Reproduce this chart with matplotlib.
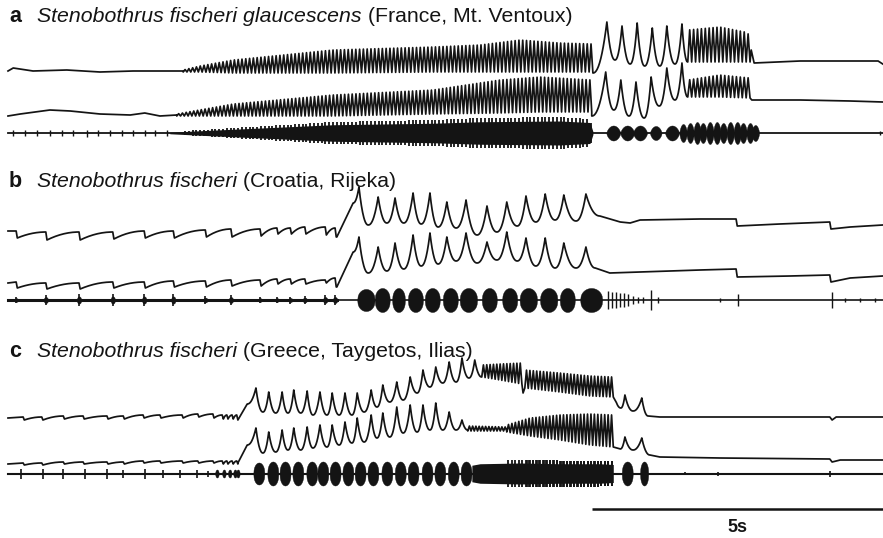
import numpy as np
import matplotlib
matplotlib.use("Agg")
import matplotlib.pyplot as plt

plt.rcParams['font.family'] = ['Liberation Sans', 'DejaVu Sans']

# ======================= DATA (time in s, level in trace units) =======================
# ---------- panel a ----------
a_label, a_species, a_place = "a", "Stenobothrus fischeri glaucescens", " (France, Mt. Ventoux)"
A1_pre_t = [0.00, 0.03, 0.09, 0.43, 1.01, 1.58, 2.15, 2.73, 3.01]
A1_pre_y = [71, 70, 68, 71, 70, 72, 71, 71, 71]
A1_osc1 = (3.01, 10.05, 108)
A1_osc1_env_t = [3.01, 3.30, 3.87, 4.73, 5.58, 7.30, 8.11, 8.80, 9.48, 10.05]
A1_osc1_up = [70, 66, 60, 55, 50, 47, 45, 40, 43, 44]
A1_osc1_lo = [72, 72, 73, 73, 73, 72, 72, 72, 72, 72]
A1_big_t = [10.05, 10.29, 10.43, 10.55, 10.69, 10.81, 10.94, 11.07, 11.20, 11.32, 11.46, 11.58, 11.68]
A1_big_y = [73, 22, 60, 26, 64, 23, 66, 28, 66, 26, 64, 24, 62]
A1_osc2 = (11.68, 12.75, 16)
A1_osc2_env_t = [11.68, 12.23, 12.66, 12.75]
A1_osc2_up = [30, 27, 32, 35]
A1_osc2_lo = [62, 62, 62, 62]
A1_post_t = [12.75, 12.77, 12.82, 13.61, 14.47, 14.95, 15.03]
A1_post_y = [62, 50, 63, 61, 61, 61, 64]

A2_pre_t = [0.00, 0.21, 0.72, 1.07, 1.58, 2.10, 2.35, 2.61, 2.90]
A2_pre_y = [116, 114, 110, 111, 114, 115, 113, 116, 115]
A2_osc1 = (2.90, 10.03, 110)
A2_osc1_env_t = [2.90, 3.87, 5.58, 7.30, 8.45, 9.14, 10.03]
A2_osc1_up = [114, 104, 95, 90, 80, 77, 80]
A2_osc1_lo = [116, 116, 116, 114, 113, 112, 112]
A2_big_t = [10.03, 10.27, 10.41, 10.53, 10.67, 10.79, 10.93, 11.05, 11.19, 11.32, 11.46, 11.58, 11.68]
A2_big_y = [116, 72, 110, 80, 116, 82, 118, 77, 106, 68, 100, 63, 97]
A2_osc2 = (11.68, 12.75, 16)
A2_osc2_env_t = [11.68, 12.23, 12.75]
A2_osc2_up = [80, 75, 78]
A2_osc2_lo = [97, 97, 98]
A2_post_t = [12.75, 12.78, 13.61, 14.47, 15.03]
A2_post_y = [98, 100, 100, 101, 102]

A3_tick_t = [0.09, 0.29, 0.50, 0.72, 0.93, 1.12, 1.36, 1.55, 1.75, 1.96, 2.15, 2.35, 2.52, 2.73, 14.98]
A3_tick_a = [3, 3, 3, 3, 3, 3, 3.5, 3, 3, 3, 3, 3, 3, 3, 2]
A3_env_t = [2.78, 3.30, 3.87, 4.73, 5.58, 6.44, 7.30, 8.11, 9.48, 10.00, 10.05]
A3_env_a = [1, 3, 5, 8, 11, 12, 13, 15, 16, 14, 2]
A3_burst_t = [10.40, 10.64, 10.86, 11.13, 11.41,
              11.60, 11.72, 11.84, 11.94, 12.06, 12.18, 12.29, 12.41, 12.53, 12.63, 12.75, 12.84]
A3_burst_w = [0.12, 0.12, 0.12, 0.10, 0.12,
              0.065, 0.065, 0.065, 0.065, 0.065, 0.065, 0.065, 0.065, 0.065, 0.065, 0.065, 0.065]
A3_burst_a = [7.5, 7.5, 7.5, 7, 7.5, 9, 10, 11, 10, 11, 11, 10, 11, 11, 10, 10, 8]

# ---------- panel b ----------
b_label, b_species, b_place = "b", "Stenobothrus fischeri", " (Croatia, Rijeka)"
B_drop_t = [0.14, 0.65, 1.22, 1.80, 2.34, 2.84, 3.39, 3.83, 4.33, 4.62, 4.85, 5.10, 5.45, 5.62]
B1_pre_hi = [231, 232, 232, 232, 231, 231, 230, 229, 229, 228, 228, 227, 227, 228]
B1_pre_lo = [238, 240, 240, 239, 238, 238, 237, 237, 236, 234, 234, 234, 235, 237]
B1_rise_t = [5.65, 5.93]
B1_rise_y = [237, 203]
B_peak_t = [6.03, 6.36, 6.65, 6.96, 7.25, 7.54, 7.87, 8.23, 8.57, 8.90, 9.23, 9.55, 9.93]
B1_peak_y = [187, 197, 198, 193, 193, 202, 200, 206, 202, 196, 194, 195, 194]
B_trough_t = [6.19, 6.51, 6.80, 7.10, 7.39, 7.70, 8.06, 8.40, 8.75, 9.07, 9.40, 9.76]
B1_trough_y = [225, 223, 223, 224, 227, 228, 235, 232, 226, 222, 220, 221]
B1_post_t = [10.17, 10.40, 10.52, 10.69, 10.86, 11.89, 12.51, 12.53, 13.26, 14.12, 14.14, 14.47, 15.03]
B1_post_y = [216, 220, 222, 223, 220, 219, 219, 226, 224, 222, 229, 227, 225]

B2_pre_hi = [282, 283, 283, 282, 282, 281, 281, 280, 280, 279, 279, 279, 280, 278]
B2_pre_lo = [288, 289, 289, 288, 288, 287, 287, 286, 286, 284, 284, 284, 283, 287]
B2_rise_t = [5.65, 5.93]
B2_rise_y = [287, 252]
B2_peak_y = [237, 247, 243, 235, 233, 237, 233, 242, 232, 238, 238, 243, 247]
B2_trough_y = [273, 271, 269, 266, 264, 261, 263, 260, 261, 266, 268, 268]
B2_post_t = [10.09, 10.34, 10.86, 11.89, 12.51, 12.53, 13.44, 14.12, 14.14, 14.47, 15.03]
B2_post_y = [268, 273, 272, 270, 269, 277, 276, 275, 282, 278, 276]

B3_pulse_a = [3, 5, 6, 6, 6, 6, 4, 5, 3, 3, 3.5, 4, 5, 5]
B3_burst_t = [6.15, 6.43, 6.71, 7.00, 7.29, 7.60, 7.91, 8.27, 8.62, 8.94, 9.29, 9.61, 10.02]
B3_burst_w = [0.15, 0.13, 0.11, 0.13, 0.13, 0.13, 0.15, 0.13, 0.13, 0.15, 0.15, 0.13, 0.19]
B3_burst_a = [11, 12, 12, 12, 12, 12, 12, 12, 12, 12, 12, 12, 12]
B3_spike_t = [10.31, 10.38, 10.45, 10.52, 10.58, 10.65, 10.74, 10.82, 10.91, 11.05, 11.17,
              12.23, 12.54, 14.16, 14.38, 14.64, 14.90]
B3_spike_a = [9, 8, 8, 7, 7, 6, 4, 3, 3, 10, 3, 2, 6, 8, 2, 2, 2]

# ---------- panel c ----------
c_label, c_species, c_place = "c", "Stenobothrus fischeri", " (Greece, Taygetos, Ilias)"
C_drop_t = [0.26, 0.58, 0.95, 1.29, 1.70, 1.98, 2.32, 2.61, 2.99, 3.26, 3.52, 3.68, 3.76, 3.85, 3.93]
C1_pre_hi = [417, 417, 416, 416, 416, 416, 415, 415, 415, 414, 414, 415, 415, 415, 415]
C1_pre_lo = [420, 420, 419, 419, 419, 419, 418, 418, 418, 417, 418, 419, 419, 419, 420]
C1_rise_t = [3.95, 4.11]
C1_rise_y = [420, 404]
C_peak_t = [4.26, 4.48, 4.71, 4.91, 5.14, 5.36, 5.57, 5.79, 6.00, 6.24, 6.44, 6.68,
            6.91, 7.13, 7.35, 7.58, 7.80, 8.02]
C1_peak_y = [388, 392, 392, 390, 391, 392, 393, 393, 393, 390, 385, 382, 377, 370, 367, 362, 358, 360]
C_trough_t = [4.38, 4.60, 4.81, 5.03, 5.24, 5.48, 5.69, 5.91, 6.12, 6.34, 6.56, 6.79,
              7.03, 7.25, 7.47, 7.70, 7.92, 8.14]
C1_trough_y = [412, 413, 413, 413, 415, 415, 415, 415, 412, 407, 402, 400, 393, 387, 383, 382, 378, 377]
C1_osc1 = (8.14, 8.83, 12)
C1_osc1_env_t = [8.14, 8.45, 8.83]
C1_osc1_up = [365, 364, 363]
C1_osc1_lo = [377, 380, 384]
C1_dip_t = [8.85, 8.88]
C1_dip_y = [393, 388]
C1_osc2 = (8.88, 10.40, 26)
C1_osc2_env_t = [8.88, 9.48, 10.00, 10.40]
C1_osc2_up = [370, 373, 376, 377]
C1_osc2_lo = [388, 392, 396, 397]
C1_end_t = [10.45, 10.53, 10.60, 10.74, 10.89, 11.00]
C1_end_y = [402, 408, 395, 411, 398, 416]
C1_post_t = [11.20, 14.12, 14.16, 14.23, 15.03]
C1_post_y = [417, 417, 420, 417, 417]

C2_pre_hi = [463, 463, 462, 462, 462, 462, 461, 461, 461, 461, 461, 461, 461, 461, 461]
C2_pre_lo = [465, 465, 464, 464, 464, 464, 463, 463, 463, 463, 463, 464, 464, 464, 464]
C2_rise_t = [3.95, 4.11]
C2_rise_y = [463, 445]
C2_peak_y = [428, 432, 430, 428, 427, 425, 425, 422, 418, 415, 413, 407, 405, 405, 403, 412, 420]
C2_trough_y = [453, 452, 450, 450, 448, 447, 445, 443, 442, 438, 437, 433, 432, 430, 430, 430, 430]
C2_trough_last_t = 7.90
C2_osc1 = (7.90, 8.57, 12)
C2_osc1_env_t = [7.90, 8.57]
C2_osc1_up = [426, 427]
C2_osc1_lo = [431, 431]
C2_osc2 = (8.57, 10.40, 31)
C2_osc2_env_t = [8.57, 8.97, 9.48, 10.00, 10.40]
C2_osc2_up = [425, 418, 415, 414, 415]
C2_osc2_lo = [432, 436, 440, 445, 447]
C2_end_t = [10.52, 10.60, 10.74, 10.89, 11.03]
C2_end_y = [449, 437, 450, 438, 455]
C2_post_t = [11.20, 12.23, 14.12, 14.16, 14.30, 15.03]
C2_post_y = [457, 458, 459, 462, 460, 460]

C3_tick_t = [0.22, 0.60, 0.95, 1.32, 1.70, 1.98, 2.35, 2.66, 2.96, 3.25, 3.44, 11.63, 12.20, 14.12]
C3_tick_a = [5, 5, 5, 5, 5, 4, 5, 4, 4, 4, 3, 1.5, 2, 3]
C3_blob_t = [3.59, 3.71, 3.81, 3.90, 3.95]
C3_blob_a = [4, 4, 4, 4, 4]
C3_burst_t = [4.31, 4.55, 4.76, 4.98, 5.22, 5.41, 5.62, 5.84, 6.05, 6.27, 6.51, 6.74, 6.96,
              7.20, 7.42, 7.65, 7.87, 10.64, 10.93]
C3_burst_w = [0.095] * 17 + [0.095, 0.07]
C3_burst_a = [11, 12, 12, 12, 12, 12, 12, 12, 12, 12, 12, 12, 12, 12, 12, 12, 12, 12, 12]
C3_env_t = [7.97, 8.11, 8.80, 9.48, 10.17, 10.40]
C3_env_a = [11, 13, 14, 13, 13, 12]

SCALE_S = 5

# ======================= LAYOUT / STYLE =======================
W, H = 883, 538
PX_PER_S = 58.2
INK = '#141414'
A_BASE, B_BASE, C_BASE = 133, 300, 473.5
LEG_LW = 1.25

fig = plt.figure(figsize=(W / 100, H / 100), dpi=100)
ax = fig.add_axes([0, 0, 1, 1])
ax.set_xlim(-8 / PX_PER_S, (W - 8) / PX_PER_S)
ax.set_ylim(H, 0)
ax.axis('off')
T_END = (W - 8) / PX_PER_S


def cusp(ts, ys, k=2.2, m=24):
    out_t, out_y = [ts[0]], [ys[0]]
    for i in range(len(ts) - 1):
        t0, t1, y0, y1 = ts[i], ts[i + 1], ys[i], ys[i + 1]
        s = np.linspace(0, 1, m)[1:]
        f = s ** k if y1 < y0 else 1 - (1 - s) ** k
        out_t.extend(t0 + (t1 - t0) * s)
        out_y.extend(y0 + (y1 - y0) * f)
    return list(out_t), list(out_y)


def zigzag(osc, env_t, up, lo):
    t0, t1, n = osc
    tt = np.linspace(t0, t1, 2 * n + 1)
    u = np.interp(tt, env_t, up)
    l = np.interp(tt, env_t, lo)
    y = np.where(np.arange(2 * n + 1) % 2 == 0, l, u)
    return list(tt), list(y)


def sawtooth(y0, drop_t, hi, lo, dt=0.02, k=2.0, m=16):
    """Drops at drop_t (hi -> lo), each followed by a decelerating recovery."""
    ts, ys = [0.0], [y0]
    for i, (t, a, b) in enumerate(zip(drop_t, hi, lo)):
        ts += [t, t + dt]
        ys += [a, b]
        if i + 1 < len(drop_t):
            t_next, y_next = drop_t[i + 1], hi[i + 1]
            s = np.linspace(0, 1, m)[1:-1]
            ts += list(t + dt + (t_next - t - dt) * s)
            ys += list(b + (y_next - b) * (1 - (1 - s) ** k))
    return ts, ys


def interleave(pk_t, pk_y, tr_t, tr_y):
    ts, ys = [], []
    for i in range(len(pk_t)):
        ts.append(pk_t[i]); ys.append(pk_y[i])
        if i < len(tr_t):
            ts.append(tr_t[i]); ys.append(tr_y[i])
    return ts, ys


def draw(pieces, lw=LEG_LW):
    T, Y = [], []
    for t, y in pieces:
        T += list(t); Y += list(y)
    ax.plot(T, Y, color=INK, lw=lw, solid_joinstyle='round')


def blobs(cs, ws, amps, base, p=0.5):
    for c, hw, a in zip(cs, ws, amps):
        t = np.linspace(c - hw, c + hw, 40)
        u = (t - c) / hw
        e = a * np.clip(1 - u ** 2, 0, 1) ** p
        ax.fill_between(t, base - e, base + e, color=INK, lw=0.3, edgecolor=INK)


def ticks(ts, amps, base, lw=1.0):
    ax.vlines(ts, [base - a for a in amps], [base + a for a in amps], color=INK, lw=lw)


def env_fill(env_t, env_a, base, spike_t, core=0.75):
    t = np.linspace(env_t[0], env_t[-1], 600)
    e = np.interp(t, env_t, env_a)
    ax.fill_between(t, base - core * e, base + core * e, color=INK, lw=0)
    st = np.asarray(spike_t)
    st = st[(st > env_t[0]) & (st < env_t[-1])]
    se = np.interp(st, env_t, env_a)
    ax.vlines(st, base - se, base + se, color=INK, lw=1.3)


# ---------- panel a ----------
z1 = zigzag(A1_osc1, A1_osc1_env_t, A1_osc1_up, A1_osc1_lo)
z2 = zigzag(A1_osc2, A1_osc2_env_t, A1_osc2_up, A1_osc2_lo)
draw([(A1_pre_t, A1_pre_y), z1, cusp(A1_big_t, A1_big_y), z2, (A1_post_t, A1_post_y)])
za = zigzag(A2_osc1, A2_osc1_env_t, A2_osc1_up, A2_osc1_lo)
zb = zigzag(A2_osc2, A2_osc2_env_t, A2_osc2_up, A2_osc2_lo)
draw([(A2_pre_t, A2_pre_y), za, cusp(A2_big_t, A2_big_y), zb, (A2_post_t, A2_post_y)])
ax.plot([0, T_END], [A_BASE, A_BASE], color=INK, lw=1.3)
ticks(A3_tick_t, A3_tick_a, A_BASE)
env_fill(A3_env_t, A3_env_a, A_BASE, spike_t=z1[0][1::2])
blobs(A3_burst_t, A3_burst_w, A3_burst_a, A_BASE, p=0.7)

# ---------- panel b ----------
pk = interleave(B_peak_t, B1_peak_y, B_trough_t, B1_trough_y)
draw([sawtooth(231, B_drop_t, B1_pre_hi, B1_pre_lo), (B1_rise_t, B1_rise_y),
      cusp([B1_rise_t[-1]] + pk[0] + [B1_post_t[0]], [B1_rise_y[-1]] + pk[1] + [B1_post_y[0]]),
      (B1_post_t, B1_post_y)])
pk = interleave(B_peak_t, B2_peak_y, B_trough_t, B2_trough_y)
draw([sawtooth(283, B_drop_t, B2_pre_hi, B2_pre_lo), (B2_rise_t, B2_rise_y),
      cusp([B2_rise_t[-1]] + pk[0] + [B2_post_t[0]], [B2_rise_y[-1]] + pk[1] + [B2_post_y[0]]),
      (B2_post_t, B2_post_y)])
ax.plot([0, T_END], [B_BASE, B_BASE], color=INK, lw=1.2)
ax.plot([0, B2_rise_t[0]], [B_BASE, B_BASE], color=INK, lw=2.2)
blobs(B_drop_t, [0.035] * len(B_drop_t), [a * 0.6 for a in B3_pulse_a], B_BASE, p=0.4)
ticks(B_drop_t, B3_pulse_a, B_BASE, lw=1.2)
blobs(B3_burst_t, B3_burst_w, B3_burst_a, B_BASE, p=0.45)
ticks(B3_spike_t, B3_spike_a, B_BASE)

# ---------- panel c ----------
pk = interleave(C_peak_t, C1_peak_y, C_trough_t, C1_trough_y)
zc1 = zigzag(C1_osc2, C1_osc2_env_t, C1_osc2_up, C1_osc2_lo)
draw([sawtooth(418, C_drop_t, C1_pre_hi, C1_pre_lo), (C1_rise_t, C1_rise_y),
      cusp([C1_rise_t[-1]] + pk[0], [C1_rise_y[-1]] + pk[1]),
      zigzag(C1_osc1, C1_osc1_env_t, C1_osc1_up, C1_osc1_lo), (C1_dip_t, C1_dip_y),
      zc1, cusp(C1_end_t, C1_end_y), (C1_post_t, C1_post_y)])
n2 = len(C2_peak_y)
pk = interleave(C_peak_t[:n2], C2_peak_y, C_trough_t[:n2 - 1] + [C2_trough_last_t], C2_trough_y)
zc2 = zigzag(C2_osc2, C2_osc2_env_t, C2_osc2_up, C2_osc2_lo)
draw([sawtooth(464, C_drop_t, C2_pre_hi, C2_pre_lo), (C2_rise_t, C2_rise_y),
      cusp([C2_rise_t[-1]] + pk[0], [C2_rise_y[-1]] + pk[1]),
      zigzag(C2_osc1, C2_osc1_env_t, C2_osc1_up, C2_osc1_lo), zc2,
      cusp(C2_end_t, C2_end_y), (C2_post_t, C2_post_y)])
ax.plot([0, T_END], [C_BASE, C_BASE], color=INK, lw=1.5)
ticks(C3_tick_t, C3_tick_a, C_BASE, lw=1.2)
blobs(C3_blob_t, [0.03] * len(C3_blob_t), C3_blob_a, C_BASE, p=0.5)
env_fill(C3_env_t, C3_env_a, C_BASE, spike_t=zc2[0][1::2] + zc1[0][1::2])
blobs(C3_burst_t, C3_burst_w, C3_burst_a, C_BASE, p=0.45)

# ---------- scale bar ----------
ax.plot([T_END - SCALE_S, T_END], [509, 509], color=INK, lw=1.8, solid_capstyle='butt')
ax.text(T_END - SCALE_S / 2, 527, f"{SCALE_S}s", ha='center', va='center',
        fontsize=13, fontweight='bold', color=INK)

# ---------- titles ----------
renderer = fig.canvas.get_renderer()
for lab, sp, pl, ybase in [(a_label, a_species, a_place, 22), (b_label, b_species, b_place, 187),
                           (c_label, c_species, c_place, 357)]:
    fy = 1 - ybase / H
    fig.text(9 / W, fy, lab, fontsize=15.5, fontweight='bold', va='baseline', color=INK)
    t1 = fig.text(37 / W, fy, sp, fontsize=15.3, style='italic', va='baseline', color=INK)
    bb = t1.get_window_extent(renderer)
    fig.text(bb.x1 / W, fy, pl, fontsize=15.3, va='baseline', color=INK)

fig.savefig("out.png", dpi=100)
